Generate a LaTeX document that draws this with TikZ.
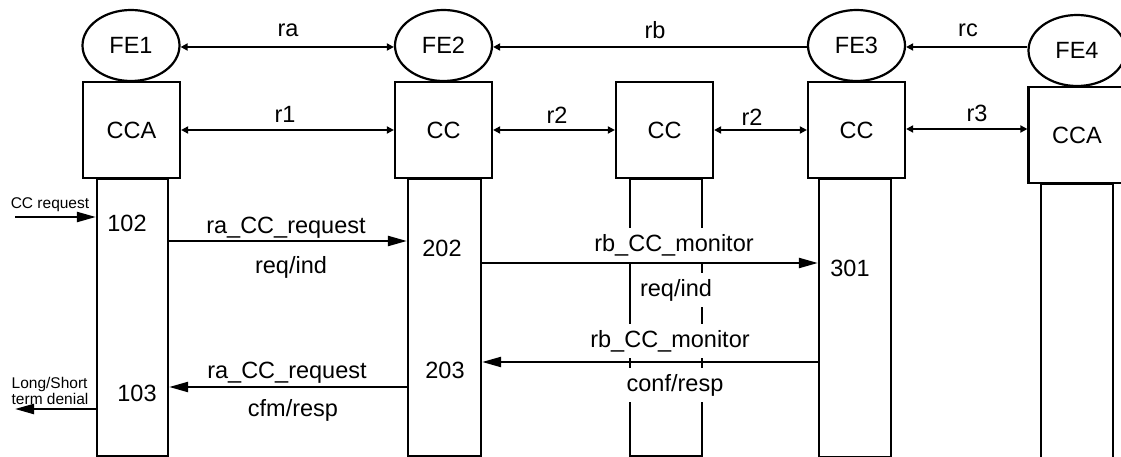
\documentclass[tikz,border=0pt]{standalone}
\usepackage{fontspec}
\setmainfont{Liberation Sans}
\usetikzlibrary{shapes.geometric,arrows.meta}
\begin{document}
\begin{tikzpicture}[x=1pt,y=-1pt,
  lw/.style={line width=2.2pt},
  fe/.style={lw,draw,ellipse,minimum width=97pt,minimum height=71pt,inner sep=0pt,font=\fontsize{23.5}{28}\selectfont},
  blk/.style={lw,draw,rectangle,minimum width=97pt,minimum height=96pt,inner sep=0pt,font=\fontsize{23.5}{28}\selectfont},
  life/.style={lw,draw,rectangle,minimum width=71pt,inner sep=0pt},
  big/.style={font=\fontsize{23.5}{28}\selectfont,inner sep=0pt},
  lab/.style={font=\fontsize{23.5}{28}\selectfont,inner xsep=2pt,inner ysep=6pt,fill=white},
  small/.style={font=\fontsize{15.5}{16}\selectfont,inner sep=0pt,align=left},
  rif/.style={lw,-{Triangle[length=7pt,width=7pt]}},
  rifb/.style={lw,{Triangle[length=7pt,width=7pt]}-{Triangle[length=7pt,width=7pt]}},
  msg/.style={lw,-{Triangle[length=19pt,width=10pt]}}
]
\useasboundingbox (0,0) rectangle (1121,457);
\clip (0,0) rectangle (1121,457);
% functional entities
\node[fe] (FE1) at (131,45.5) {FE1};
\node[fe] (FE2) at (443.5,45.5) {FE2};
\node[fe] (FE3) at (856.5,45.5) {FE3};
\node[fe] (FE4) at (1077,50.5) {FE4};
% blocks
\node[blk] (B1) at (131.5,130) {CCA};
\node[blk] (B2) at (443.5,130) {CC};
\node[blk] (BM) at (664.5,130) {CC};
\node[blk] (B3) at (856.5,130) {CC};
\node[blk] (B4) at (1077,135) {CCA};
% lifelines
\node[life,minimum height=277pt,anchor=north] (L1) at (132.5,178) {};
\node[life,minimum height=277pt,anchor=north,minimum width=73pt] (L2) at (444.5,178) {};
\node[life,minimum height=277pt,anchor=north,minimum width=72pt] (LM) at (666,178) {};
\node[life,minimum height=278pt,anchor=north,minimum width=72pt] (L3) at (855,178) {};
\node[life,minimum height=290pt,anchor=north,minimum width=72pt] (L4) at (1077,183) {};
% interfaces
\draw[rifb] (FE1.east |- 0,47) -- (FE2.west |- 0,47);
\node[big] at (288,30) {ra};
\draw[rif] (FE3.west |- 0,47) -- (FE2.east |- 0,47);
\node[big] at (655,30) {rb};
\draw[rif] (FE4.west |- 0,47) -- (FE3.east |- 0,47);
\node[big] at (968,30) {rc};
\draw[rifb] (B1.east) -- (B2.west);
\node[big] at (285,114) {r1};
\draw[rifb] (B2.east) -- (BM.west);
\node[big] at (557,115) {r2};
\draw[rifb] (BM.east) -- (B3.west);
\node[big] at (752,117) {r2};
\draw[rifb] (B4.west |- 0,129) -- (B3.east |- 0,129);
\node[big] at (977,113) {r3};
% numbers
\node[big] at (127,223) {102};
\node[big] at (137,393) {103};
\node[big] at (442,248) {202};
\node[big] at (445,370) {203};
\node[big] at (850,268) {301};
% external stimuli
\coordinate (in) at (15,217);
\coordinate (out) at (15,409);
\node[small] at (50,205) {CC request};
\draw[msg] (in) -- (L1.west |- in);
\node[small] at (50,391) {Long/Short\\term denial};
\draw[msg] (L1.west |- out) -- (out);
% messages
\node[lab] at (674,245) {rb\_CC\_monitor};
\node[lab] at (676,290) {req/ind};
\node[lab] at (670,341) {rb\_CC\_monitor};
\node[lab] at (675,385) {conf/resp};
\node[big] at (286,228) {ra\_CC\_request};
\node[big] at (291,267) {req/ind};
\node[big] at (287,373) {ra\_CC\_request};
\node[big] at (293,410) {cfm/resp};
\draw[msg] (L1.east |- 0,241) -- (L2.west |- 0,241);
\draw[msg] (L2.east |- 0,263) -- (L3.west |- 0,263);
\draw[msg] (L3.west |- 0,362) -- (L2.east |- 0,362);
\draw[msg] (L2.west |- 0,387) -- (L1.east |- 0,387);
\end{tikzpicture}
\end{document}
